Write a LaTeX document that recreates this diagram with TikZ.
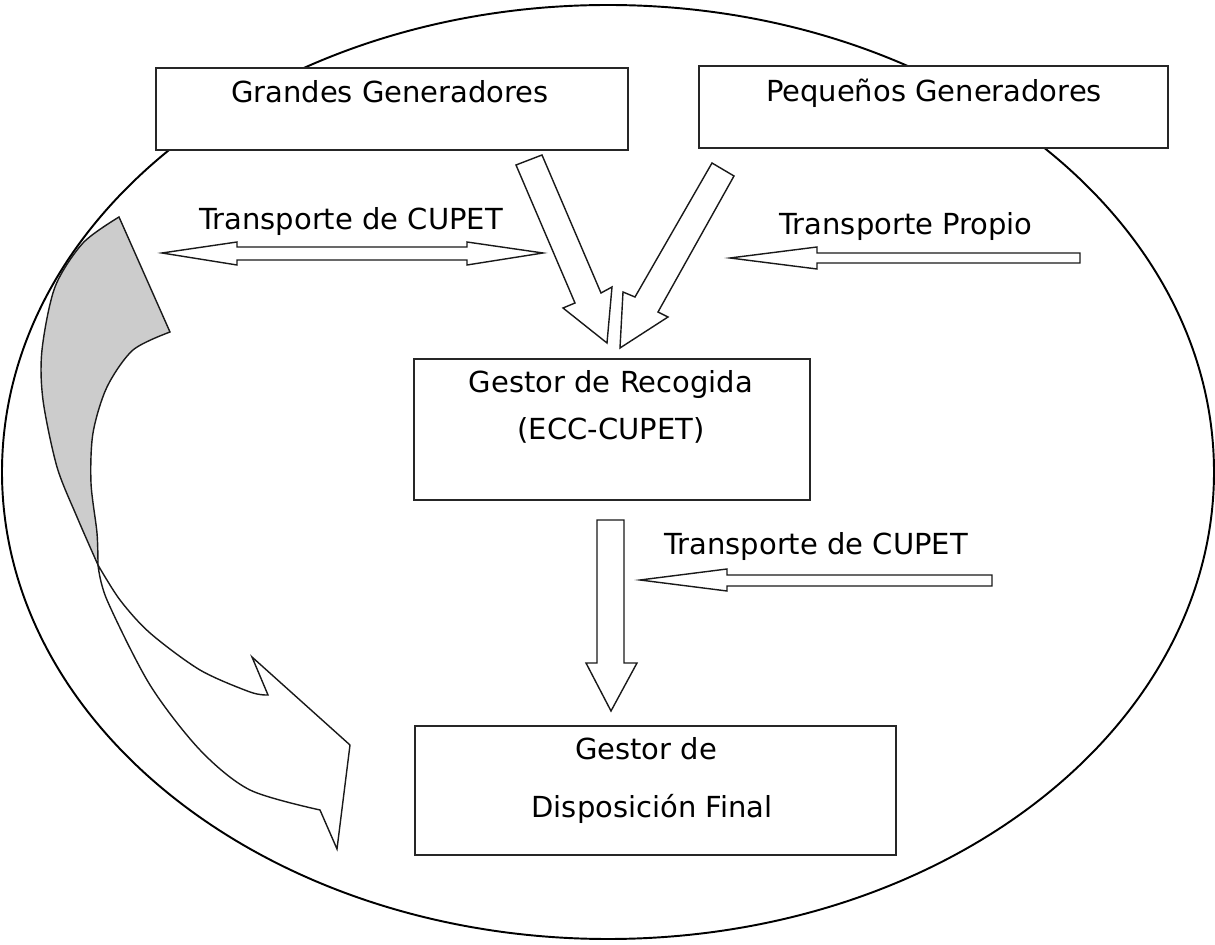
\documentclass[tikz,border=0pt]{standalone}
\usepackage{fontspec}
\setmainfont{DejaVu Sans}

\tikzset{
  box/.style={draw=black!85, line width=1.2pt, fill=white, anchor=north west, inner sep=0pt},
  txt/.style={font=\fontsize{16.5}{20}\selectfont, inner sep=0pt, text height=0.75em, text depth=0.2em},
  blockarrow/.style={draw=black!90, line width=0.8pt, fill=white, line join=miter},
}

\begin{document}
\begin{tikzpicture}[x=0.02cm, y=-0.02cm]
\useasboundingbox (0,0) rectangle (1215,945);

% Outer ellipse
\draw[line width=1.1pt] (608,472) ellipse [x radius=606, y radius=467];

% Boxes
\node[box, minimum width=9.44cm, minimum height=1.64cm] (grandes) at (155,67) {};
\node[box, minimum width=9.38cm, minimum height=1.64cm] (pequenos) at (698,65) {};
\node[box, minimum width=7.92cm, minimum height=2.82cm] (recogida) at (413,358) {};
\node[box, minimum width=9.62cm, minimum height=2.58cm] (disposicion) at (414,725) {};

% Box texts
\node[txt] (grandesT) at (390,98) {Grandes Generadores};
\node[txt] (pequenosT) at (934,97) {Pequeños Generadores};
\node[txt] (recogidaT) at (611,388) {Gestor de Recogida};
\node[txt] (recogidaS) at (611,435) {(ECC-CUPET)};
\node[txt] (disposicionT) at (646,755) {Gestor de};
\node[txt] (disposicionS) at (652,813) {Disposición Final};

% Transport labels
\node[txt] (cupetA) at (351,225) {Transporte de CUPET};
\node[txt] (propio) at (906,230) {Transporte Propio};
\node[txt] (cupetB) at (816,550) {Transporte de CUPET};

% Double arrow (Transporte de CUPET)
\draw[blockarrow] (162,253) -- (237,242) -- (237,247) -- (467,247) -- (467,242)
  -- (543,253) -- (467,265) -- (467,260) -- (237,260) -- (237,265) -- cycle;

% Transporte Propio arrow
\draw[blockarrow] (730,258) -- (817,247) -- (817,253) -- (1080,253) -- (1080,263)
  -- (817,263) -- (817,269) -- cycle;

% Lower Transporte de CUPET arrow
\draw[blockarrow] (640,580) -- (727,569) -- (727,575) -- (992,575) -- (992,586)
  -- (727,586) -- (727,591) -- cycle;

% Recogida -> Disposicion
\draw[blockarrow] (597,520) -- (624,520) -- (624,663) -- (637,663) -- (611,711)
  -- (586,663) -- (597,663) -- cycle;

% Generadores -> Recogida
\draw[blockarrow] (516,165) -- (542,155) -- (601,293) -- (612,287) -- (607,343)
  -- (563,308) -- (575,303) -- cycle;
\draw[blockarrow] (712,163) -- (734,176) -- (658,312) -- (668,317) -- (620,348)
  -- (623,292) -- (635,297) -- cycle;

% Curved arrow, back side (gray)
\draw[blockarrow, fill=black!20] (119,217) -- (170,332)
  -- plot[smooth] coordinates {(170,332) (133,350) (107,387) (93,433) (91,483) (97,533) (98,565)}
  -- plot[smooth] coordinates {(98,565) (77,517) (57,467) (43,400) (42,350) (55,287) (83,243) (119,217)}
  -- cycle;

% Curved arrow, front side
\draw[blockarrow] (98,565)
  -- plot[smooth] coordinates {(98,565) (120,600) (150,633) (200,670) (250,692) (268,695)}
  -- (252,657) -- (350,745) -- (337,849) -- (320,810)
  -- plot[smooth] coordinates {(320,810) (250,790) (200,750) (150,685) (107,600) (98,565)}
  -- cycle;

\end{tikzpicture}
\end{document}
